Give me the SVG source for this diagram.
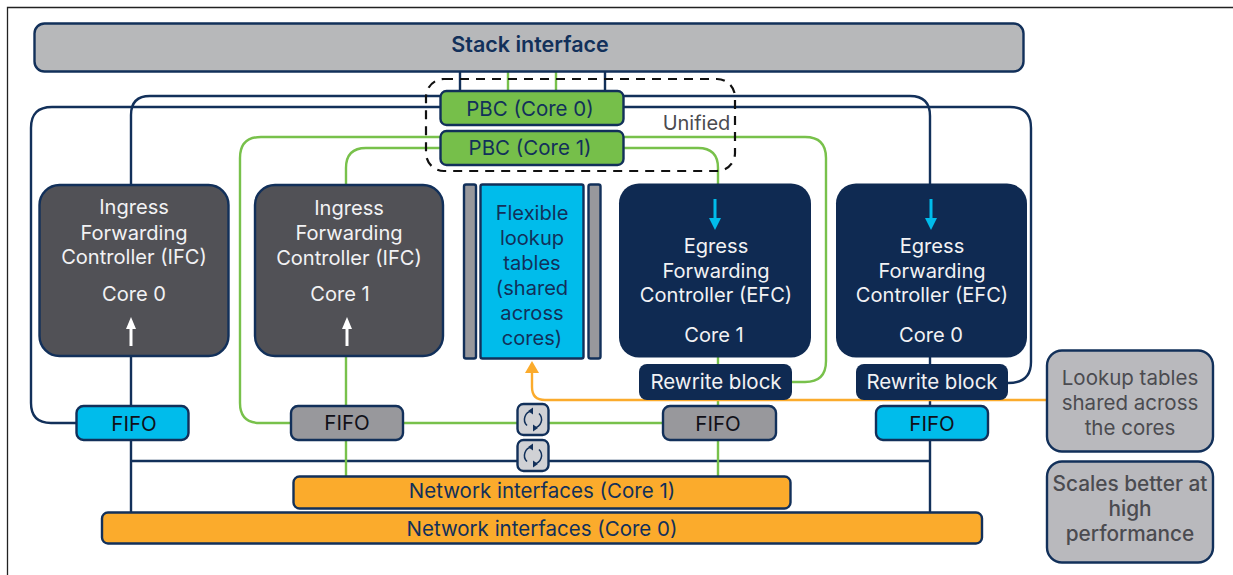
<svg xmlns="http://www.w3.org/2000/svg" width="1233" height="575" viewBox="0 0 1233 575">
<style>
text{font-family:"Inter","Liberation Sans",sans-serif;text-anchor:middle}
.n{fill:none;stroke:#12305a;stroke-width:2.4}
.g{fill:none;stroke:#78c14b;stroke-width:2.4}
.o{fill:none;stroke:#fbab2c;stroke-width:2.4}
.box{stroke:#12305a;stroke-width:2.4}
.t19{font-size:20.500px}
.t20{font-size:20.100px}
.w{fill:#f2f2f4}
.d{fill:#12305a}
.k{fill:#101018}
.s{fill:#4b4b50}
.sym{fill:none;stroke:#12305a;stroke-width:1.5}
</style>
<defs>
<g id="sync">
<rect x="-15.500" y="-15.500" width="31" height="31" rx="6" fill="#d0d1d5" class="box"/>
<path class="sym" d="M-1-8.500A8.500 8.500 0 0 0-6 6M1 8.500A8.500 8.500 0 0 0 6-6"/>
<path d="M0-12V-5L-5-8.500ZM0 12V5L5 8.500Z" fill="#12305a"/>
</g>
</defs>
<path d="M1233 7.500H7.500V575" fill="none" stroke="#222" stroke-width="1.300"/>
<g id="connectors">
<path class="n" d="M460 72V90M605 72V90"/>
<path class="g" d="M508 72V90M556 72V90"/>
<path class="n" d="M440 96H150Q131 96 131 115V184M624 96H910Q930 96 930 116V184"/>
<path class="n" d="M440 107H52Q31 107 31 128V403Q31 423 51 423H76M624 107H1010Q1031 107 1031 128V362Q1031 383 1008 383"/>
<path class="g" d="M440 137H261Q240 137 240 158V403Q240 423 260 423H290M624 137H805Q826 137 826 158V361Q826 382 805 382H792"/>
<path class="g" d="M440 148H366Q346 148 346 168V184M624 148H698Q718 148 718 168V184"/>
<path class="n" d="M131 357V405M131 440V512M930 357V364M930 400V406M930 441V512M131 461H930"/>
<path class="g" d="M346 357V405M346 440V476M718 357V364M718 400V406M718 440V476M404 423H662"/>
<path class="o" d="M1046 400H545Q532 400 532 387V370"/>
<path d="M532 361L539 373H525Z" fill="#fbab2c"/>
</g>
<g id="stack-interface"><rect class="box" x="34.500" y="23.500" width="989" height="48" rx="10" fill="#b7b8ba"/><text class="d" x="530" y="52" font-size="21.500" font-weight="600">Stack interface</text></g>
<g id="unified"><rect x="426" y="79" width="309" height="92" rx="18" fill="none" stroke="#111" stroke-width="2.200" stroke-dasharray="9 7"/><text class="s" x="696.500" y="129.500" font-size="20">Unified</text></g>
<g id="pbc0"><rect class="box" x="440.500" y="91" width="183" height="34" rx="6" fill="#76bf4a"/><text class="d t19" x="530" y="115.500">PBC (Core 0)</text></g>
<g id="pbc1"><rect class="box" x="440.500" y="131" width="183" height="34" rx="6" fill="#76bf4a"/><text class="d t19" x="530" y="154.500">PBC (Core 1)</text></g>
<g id="ifc0"><rect class="box" x="39.500" y="185" width="189" height="171" rx="20" fill="#515156"/><g class="w t20"><text x="134" y="214">Ingress</text><text x="134" y="239.500">Forwarding</text><text x="134" y="263.500">Controller (IFC)</text><text x="134" y="300.500">Core 0</text></g><path d="M131 346V328" stroke="#fff" stroke-width="3"/><path d="M131 317L136 329H126Z" fill="#fff"/></g>
<g id="ifc1"><rect class="box" x="255" y="185" width="188" height="171" rx="20" fill="#515156"/><g class="w t20"><text x="349" y="215">Ingress</text><text x="349" y="240">Forwarding</text><text x="349" y="264.500">Controller (IFC)</text><text x="340" y="300.500">Core 1</text></g><path d="M347 346V328" stroke="#fff" stroke-width="3"/><path d="M347 317L352 329H342Z" fill="#fff"/></g>
<g id="lookup"><rect class="box" x="464" y="184.500" width="12" height="174" rx="2" fill="#98989c"/><rect class="box" x="588.500" y="184.500" width="12" height="174" rx="2" fill="#98989c"/><rect class="box" x="480.500" y="184.500" width="103" height="174" rx="2" fill="#00bceb"/><g class="d t20"><text x="532" y="220">Flexible</text><text x="532" y="245">lookup</text><text x="532" y="270">tables</text><text x="532" y="295">(shared</text><text x="532" y="319.500">across</text><text x="532" y="344.500">cores)</text></g></g>
<g id="efc1"><rect x="619" y="183.500" width="192" height="174" rx="20" fill="#0f2a52"/><g class="w t20"><text x="716" y="252.500">Egress</text><text x="716" y="277.500">Forwarding</text><text x="716" y="302">Controller (EFC)</text><text x="714" y="342">Core 1</text></g><path d="M715 199V220" stroke="#00bceb" stroke-width="3"/><path d="M715 230L709 218H721Z" fill="#00bceb"/></g>
<g id="efc0"><rect x="836" y="183.500" width="191" height="174" rx="20" fill="#0f2a52"/><g class="w t20"><text x="932" y="252.500">Egress</text><text x="932" y="277.500">Forwarding</text><text x="932" y="302">Controller (EFC)</text><text x="931" y="342">Core 0</text></g><path d="M931 199V220" stroke="#00bceb" stroke-width="3"/><path d="M931 230L925 218H937Z" fill="#00bceb"/></g>
<g id="rewrite1"><rect x="639" y="364" width="153" height="36" rx="8" fill="#0f2a52"/><text class="w t19" x="716" y="388.500">Rewrite block</text></g>
<g id="rewrite0"><rect x="856" y="364" width="152" height="36" rx="8" fill="#0f2a52"/><text class="w t19" x="932" y="388.500">Rewrite block</text></g>
<g id="fifo0"><rect class="box" x="76.500" y="406" width="112" height="34" rx="7" fill="#00bceb"/><text class="k t19" x="134" y="431">FIFO</text></g>
<g id="fifo1"><rect class="box" x="291" y="406" width="112" height="34" rx="7" fill="#98989c"/><text class="k t19" x="347" y="430">FIFO</text></g>
<g id="fifo2"><rect class="box" x="663" y="406" width="113" height="34" rx="7" fill="#98989c"/><text class="k t19" x="718" y="431">FIFO</text></g>
<g id="fifo3"><rect class="box" x="876" y="406" width="112" height="34" rx="7" fill="#00bceb"/><text class="k t19" x="932" y="431">FIFO</text></g>
<g id="sync1"><use href="#sync" x="533" y="419.500"/></g>
<g id="sync2"><use href="#sync" x="533" y="455.500"/></g>
<g id="net1"><rect class="box" x="293.500" y="476.500" width="497" height="32" rx="6" fill="#fbab2c"/><text class="d t19" x="542" y="497.500">Network interfaces (Core 1)</text></g>
<g id="net0"><rect class="box" x="102" y="512.500" width="880" height="31" rx="6" fill="#fbab2c"/><text class="d t19" x="542" y="535.500">Network interfaces (Core 0)</text></g>
<g id="note-lookup"><rect class="box" x="1047" y="350.500" width="166" height="101" rx="15" fill="#b9b9bd"/><g class="s t19"><text x="1130" y="384.500">Lookup tables</text><text x="1130" y="409.500">shared across</text><text x="1130" y="434.500">the cores</text></g></g>
<g id="note-scale"><rect class="box" x="1047" y="461.500" width="166" height="101" rx="15" fill="#b9b9bd"/><g class="s" font-size="20.800" font-weight="500"><text x="1130" y="491">Scales better at</text><text x="1130" y="516">high</text><text x="1130" y="541">performance</text></g></g>
</svg>
